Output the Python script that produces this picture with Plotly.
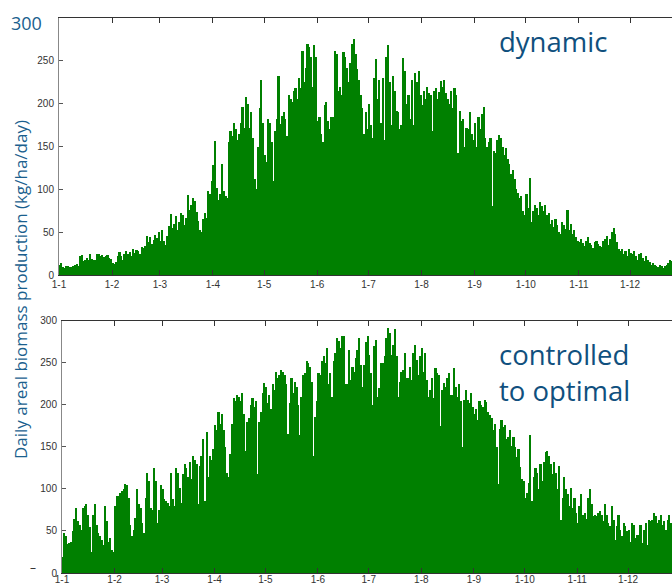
import plotly.graph_objects as go

month_starts = [0, 31, 59, 90, 120, 151, 181, 212, 243, 273, 304, 334]
month_labels = ["1-1", "1-2", "1-3", "1-4", "1-5", "1-6", "1-7", "1-8", "1-9", "1-10", "1-11", "1-12"]

dynamic = [
    12, 14, 9, 8, 10, 11, 9, 9, 10, 12,
    13, 11, 22, 23, 16, 18, 20, 17, 24, 19,
    18, 17, 25, 24, 22, 23, 21, 22, 23, 20,
    19, 14, 13, 15, 22, 27, 22, 18, 24, 28,
    25, 27, 22, 30, 26, 29, 28, 24, 33, 31,
    34, 45, 39, 44, 36, 41, 47, 43, 50, 40,
    52, 40, 35, 46, 57, 71, 55, 60, 69, 52,
    62, 72, 70, 58, 66, 93, 76, 82, 90, 86,
    74, 63, 52, 50, 65, 72, 66, 98, 95, 110,
    128, 156, 102, 88, 95, 130, 98, 92, 90, 155,
    168, 162, 178, 170, 158, 165, 178, 196, 172, 208,
    200, 172, 190, 160, 112, 100, 150, 195, 228, 178,
    140, 132, 182, 178, 155, 110, 168, 182, 232, 176,
    186, 190, 182, 162, 210, 205, 202, 215, 218, 205,
    230, 218, 262, 225, 242, 270, 266, 255, 220, 268,
    255, 180, 185, 165, 155, 198, 202, 180, 170, 185,
    185, 262, 258, 215, 220, 210, 260, 255, 242, 225,
    248, 270, 275, 258, 240, 228, 210, 195, 165, 190,
    170, 200, 175, 160, 230, 252, 205, 228, 178, 230,
    158, 255, 268, 225, 175, 232, 215, 192, 190, 170,
    175, 253, 238, 200, 210, 182, 228, 175, 236, 225,
    238, 210, 198, 215, 205, 220, 212, 210, 168, 215,
    218, 205, 214, 226, 220, 228, 212, 205, 200, 215,
    195, 218, 210, 142, 192, 180, 182, 150, 172, 170,
    190, 165, 158, 178, 150, 185, 170, 188, 196, 160,
    150, 155, 160, 80, 145, 142, 158, 164, 160, 150,
    140, 148, 135, 130, 118, 122, 112, 100, 96, 90,
    92, 75, 70, 95, 78, 113, 62, 75, 82, 78,
    70, 85, 80, 75, 82, 70, 72, 60, 64, 56,
    65, 58, 50, 48, 62, 58, 54, 76, 52, 60,
    48, 52, 44, 40, 38, 42, 37, 34, 40, 44,
    37, 35, 32, 38, 40, 36, 34, 33, 40, 42,
    45, 35, 42, 50, 55, 48, 38, 30, 28, 30,
    25, 28, 22, 30, 26, 24, 28, 22, 18, 24,
    26, 20, 16, 22, 18, 15, 12, 14, 12, 10,
    9, 12, 10, 8, 11, 12, 14, 18, 16, 14,
    18, 15, 13, 16, 14,
]

controlled = [
    20, 48, 45, 35, 36, 38, 50, 65, 78, 62,
    58, 52, 78, 80, 82, 70, 55, 25, 70, 82,
    58, 48, 45, 40, 34, 80, 62, 38, 42, 28,
    25, 80, 92, 92, 96, 98, 100, 106, 105, 90,
    58, 44, 52, 66, 100, 82, 78, 60, 48, 90,
    120, 110, 78, 76, 125, 110, 60, 75, 105, 100,
    88, 86, 84, 80, 120, 88, 80, 125, 120, 102,
    84, 118, 130, 125, 115, 132, 112, 140, 135, 130,
    82, 128, 140, 160, 86, 168, 115, 140, 135, 148,
    176, 170, 192, 178, 190, 170, 150, 120, 115, 142,
    178, 208, 205, 212, 210, 205, 215, 190, 145, 180,
    185, 200, 208, 198, 205, 118, 180, 192, 215, 226,
    222, 202, 212, 195, 225, 218, 240, 232, 236, 242,
    240, 236, 225, 166, 202, 232, 215, 228, 222, 200,
    165, 210, 236, 238, 252, 250, 245, 228, 140, 186,
    205, 238, 236, 252, 258, 250, 268, 225, 238, 210,
    252, 262, 280, 276, 268, 282, 282, 225, 225, 265,
    230, 245, 240, 256, 265, 280, 248, 222, 248, 275,
    282, 260, 238, 200, 270, 278, 210, 220, 250, 250,
    258, 280, 292, 286, 260, 272, 290, 258, 210, 228,
    240, 242, 262, 232, 232, 245, 230, 262, 272, 254,
    236, 258, 268, 240, 262, 230, 210, 218, 232, 208,
    244, 238, 236, 175, 218, 226, 222, 232, 238, 212,
    212, 244, 222, 210, 225, 205, 150, 206, 218, 206,
    202, 214, 198, 190, 195, 182, 205, 200, 198, 206,
    204, 192, 188, 185, 170, 178, 150, 106, 172, 182,
    174, 176, 160, 162, 170, 152, 162, 150, 138, 148,
    126, 112, 110, 90, 96, 108, 165, 86, 115, 125,
    120, 100, 130, 110, 132, 144, 145, 140, 130, 118,
    132, 120, 100, 128, 64, 90, 115, 100, 95, 80,
    102, 78, 90, 72, 60, 80, 95, 70, 72, 65,
    90, 100, 82, 68, 70, 68, 72, 74, 70, 62,
    82, 70, 60, 56, 80, 64, 40, 56, 70, 52,
    45, 60, 56, 50, 52, 38, 60, 58, 42, 46,
    46, 58, 36, 52, 60, 34, 64, 62, 64, 72,
    68, 60, 64, 70, 58, 62, 52, 64, 70, 60,
    66, 58, 62, 70, 60,
]

days = [d + 0.5 for d in range(len(dynamic))]

W, H = 672, 585
GREEN = "#008000"
BLUE = "#1b5f8e"
DARKBLUE = "#10507e"

fig = go.Figure()
fig.add_trace(go.Bar(x=days, y=dynamic, xaxis="x", yaxis="y", width=1,
                     marker=dict(color=GREEN, line=dict(width=0)), hoverinfo="skip"))
fig.add_trace(go.Bar(x=days, y=controlled, xaxis="x2", yaxis="y2", width=1,
                     marker=dict(color=GREEN, line=dict(width=0)), hoverinfo="skip"))

tickfont = dict(family="Liberation Sans, Arial", size=10, color="#333333")

common_x = dict(tickvals=month_starts, ticktext=month_labels, ticks="inside", ticklen=5,
                tickcolor="#333333", showline=True, linecolor="#333333", linewidth=1,
                mirror="ticks", showgrid=False, zeroline=False, tickfont=tickfont,
                automargin=False)
common_y = dict(range=[0, 300], ticks="inside", ticklen=4, tickcolor="#555555",
                showline=True, linecolor="#888888", linewidth=1, showgrid=False,
                zeroline=False, tickfont=tickfont, automargin=False, ticklabelstandoff=2)

fig.update_layout(
    width=W, height=H,
    margin=dict(l=0, r=0, t=0, b=0),
    paper_bgcolor="white", plot_bgcolor="white",
    showlegend=False, bargap=0,
    xaxis=dict(domain=[59 / W, 1], range=[0, 358.5], anchor="y", **common_x),
    yaxis=dict(domain=[1 - 275 / H, 1 - 18 / H], anchor="x",
               tickvals=[0, 50, 100, 150, 200, 250], **common_y),
    xaxis2=dict(domain=[62 / W, 1], range=[0, 359.9], anchor="y2",
                ticklabelstandoff=-3, **common_x),
    yaxis2=dict(domain=[1 - 573 / H, 1 - 320.5 / H], anchor="x2",
                tickvals=[0, 50, 100, 150, 200, 250, 300], **common_y),
)

annotations = [
    dict(text="300", x=26 / W, y=1 - 23 / H, xref="paper", yref="paper", showarrow=False,
         font=dict(family="Open Sans", size=18, color=BLUE), xanchor="center", yanchor="middle"),
    dict(text="Daily areal biomass production (kg/ha/day)", x=20 / W, y=1 - 290 / H,
         xref="paper", yref="paper", showarrow=False, textangle=-90,
         font=dict(family="Open Sans", size=17, color=BLUE), xanchor="center", yanchor="middle"),
    dict(text="dynamic", x=497 / W, y=1 - 42 / H, xref="paper", yref="paper", showarrow=False,
         font=dict(family="Open Sans", size=27.5, color=DARKBLUE), xanchor="left", yanchor="middle"),
    dict(text="controlled<br>to optimal", x=497 / W, y=1 - 372 / H, xref="paper", yref="paper",
         showarrow=False, align="left",
         font=dict(family="Open Sans", size=27.5, color=DARKBLUE), xanchor="left", yanchor="middle"),
    dict(text="–", x=33 / W, y=1 - 567 / H, xref="paper", yref="paper", showarrow=False,
         font=dict(family="Open Sans", size=12, color="#333333"), xanchor="center", yanchor="middle"),
]
fig.update_layout(annotations=annotations)

fig.write_html(
    "out.html",
    config={"displayModeBar": False},
    post_script="document.body.style.margin='0';document.body.style.padding='0';"
                "document.documentElement.style.overflow='hidden';",
)
